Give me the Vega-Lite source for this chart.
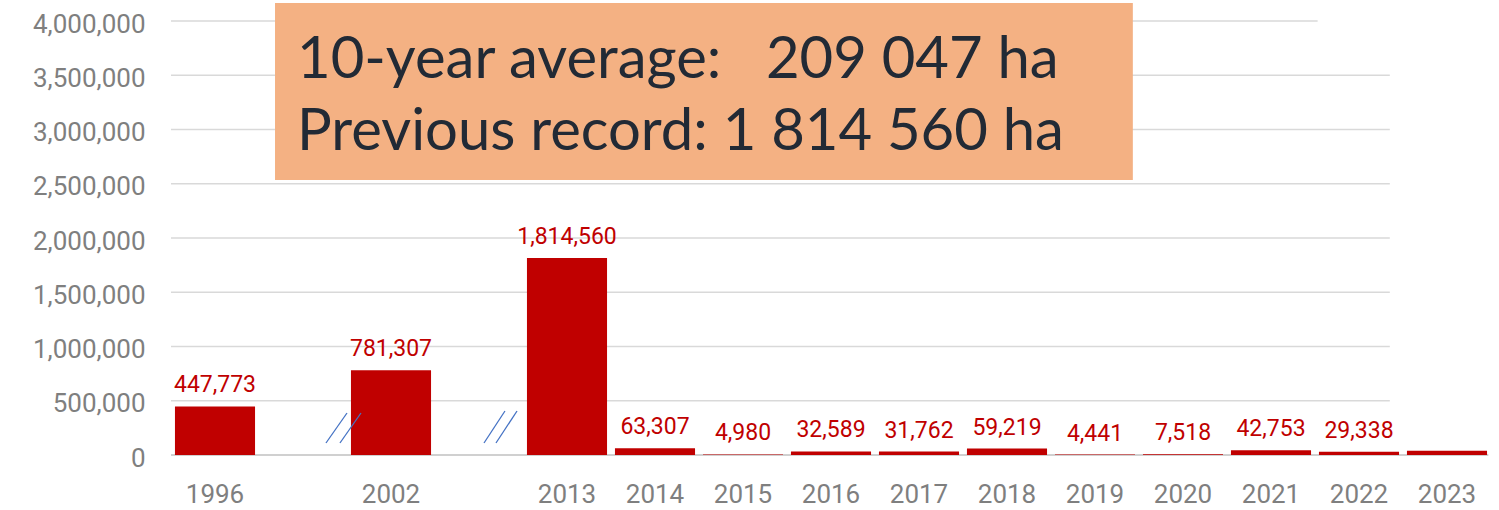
{
  "$schema": "https://vega.github.io/schema/vega-lite/v6.json",
  "width": 1320,
  "height": 434,
  "autosize": {"type": "none"},
  "padding": {"left": 171, "top": 21, "right": 8, "bottom": 55},
  "background": "white",
  "config": {"view": {"stroke": null}, "font": "Roboto"},
  "datasets": {
    "burned": [
      {"year": "1996", "area": 447773},
      {"year": "2002", "area": 781307},
      {"year": "2013", "area": 1814560},
      {"year": "2014", "area": 63307},
      {"year": "2015", "area": 4980},
      {"year": "2016", "area": 32589},
      {"year": "2017", "area": 31762},
      {"year": "2018", "area": 59219},
      {"year": "2019", "area": 4441},
      {"year": "2020", "area": 7518},
      {"year": "2021", "area": 42753},
      {"year": "2022", "area": 29338},
      {"year": "2023", "area": 40000}
    ],
    "grid": [
      {"v": 500000}, {"v": 1000000}, {"v": 1500000}, {"v": 2000000}, {"v": 2500000}, {"v": 3000000}, {"v": 3500000}
    ],
    "breaks": [
      {"x": 1.761, "x2": 2.0, "y": 110599, "y2": 387097},
      {"x": 1.92, "x2": 2.159, "y": 110599, "y2": 387097},
      {"x": 3.557, "x2": 3.795, "y": 110599, "y2": 405530},
      {"x": 3.693, "x2": 3.932, "y": 110599, "y2": 405530}
    ]
  },
  "resolve": {"scale": {"x": "independent"}, "axis": {"x": "independent"}},
  "layer": [
    {
      "data": {"name": "grid"},
      "mark": {"type": "rule", "color": "#d9d9d9", "strokeWidth": 1.5},
      "encoding": {
        "x": {"datum": 0, "type": "quantitative", "scale": {"domain": [0, 15]}, "axis": null},
        "x2": {"datum": 13.85},
        "y": {
          "field": "v", "type": "quantitative",
          "scale": {"domain": [0, 4000000], "nice": false},
          "axis": {"title": null, "values": [0, 500000, 1000000, 1500000, 2000000, 2500000, 3000000, 3500000, 4000000], "labelExpr": "format(datum.value, ',')", "labelFontSize": 26, "labelColor": "#7f7f7f", "labelPadding": 26, "labelOffset": 3, "grid": false, "domain": false, "ticks": false, "tickSize": 0}
        }
      }
    },
    {
      "data": {"values": [{"v": 4000000}]},
      "mark": {"type": "rule", "color": "#d9d9d9", "strokeWidth": 1.5},
      "encoding": {
        "x": {"datum": 0, "type": "quantitative", "scale": {"domain": [0, 15]}, "axis": null},
        "x2": {"datum": 13.03},
        "y": {"field": "v", "type": "quantitative"}
      }
    },
    {
      "data": {"values": [{"v": 0}]},
      "mark": {"type": "rule", "color": "#d0d0d0", "strokeWidth": 2},
      "encoding": {
        "x": {"datum": 0, "type": "quantitative", "scale": {"domain": [0, 15]}, "axis": null},
        "x2": {"datum": 14.97},
        "y": {"field": "v", "type": "quantitative"}
      }
    },
    {
      "data": {"name": "burned"},
      "mark": {"type": "bar", "color": "#C00000"},
      "encoding": {
        "x": {
          "field": "year", "type": "ordinal",
          "scale": {"domain": ["1996", "a", "2002", "b", "2013", "2014", "2015", "2016", "2017", "2018", "2019", "2020", "2021", "2022", "2023"], "paddingInner": 0.09, "paddingOuter": 0.045},
          "axis": {"title": null, "labelExpr": "datum.label == 'a' || datum.label == 'b' ? '' : datum.label", "labelAngle": 0, "labelFontSize": 26, "labelColor": "#7f7f7f", "labelPadding": 26, "domain": false, "ticks": false, "tickSize": 0}
        },
        "y": {"field": "area", "type": "quantitative"}
      }
    },
    {
      "data": {"name": "burned"},
      "transform": [{"filter": "datum.year != '2023'"}],
      "mark": {"type": "text", "color": "#C00000", "fontSize": 23, "baseline": "alphabetic", "dy": -14},
      "encoding": {
        "x": {"field": "year", "type": "ordinal", "scale": {"domain": ["1996", "a", "2002", "b", "2013", "2014", "2015", "2016", "2017", "2018", "2019", "2020", "2021", "2022", "2023"], "paddingInner": 0.09, "paddingOuter": 0.045}, "axis": null},
        "y": {"field": "area", "type": "quantitative"},
        "text": {"field": "area", "type": "quantitative", "format": ","}
      }
    },
    {
      "data": {"name": "breaks"},
      "mark": {"type": "rule", "color": "#4472C4", "strokeWidth": 1.3},
      "encoding": {
        "x": {"field": "x", "type": "quantitative", "scale": {"domain": [0, 15]}, "axis": null},
        "x2": {"field": "x2"},
        "y": {"field": "y", "type": "quantitative"},
        "y2": {"field": "y2"}
      }
    },
    {
      "data": {"values": [{"note": "box"}]},
      "mark": {"type": "rect", "color": "#F4B183", "clip": false},
      "encoding": {
        "x": {"datum": 1.182, "type": "quantitative", "scale": {"domain": [0, 15]}, "axis": null},
        "x2": {"datum": 10.93},
        "y": {"datum": 2534562, "type": "quantitative"},
        "y2": {"datum": 4165899}
      }
    },
    {
      "data": {"values": [{"note": "text"}]},
      "mark": {"type": "text", "font": "Lato", "fontSize": 58, "lineHeight": 72, "align": "left", "baseline": "alphabetic", "color": "#222a35"},
      "encoding": {
        "x": {"datum": 1.432, "type": "quantitative", "scale": {"domain": [0, 15]}, "axis": null},
        "y": {"datum": 3474654, "type": "quantitative"},
        "text": {"value": ["10-year average:\u00a0\u00a0\u00a0209 047 ha", "Previous record: 1 814 560 ha"]}
      }
    }
  ]
}
